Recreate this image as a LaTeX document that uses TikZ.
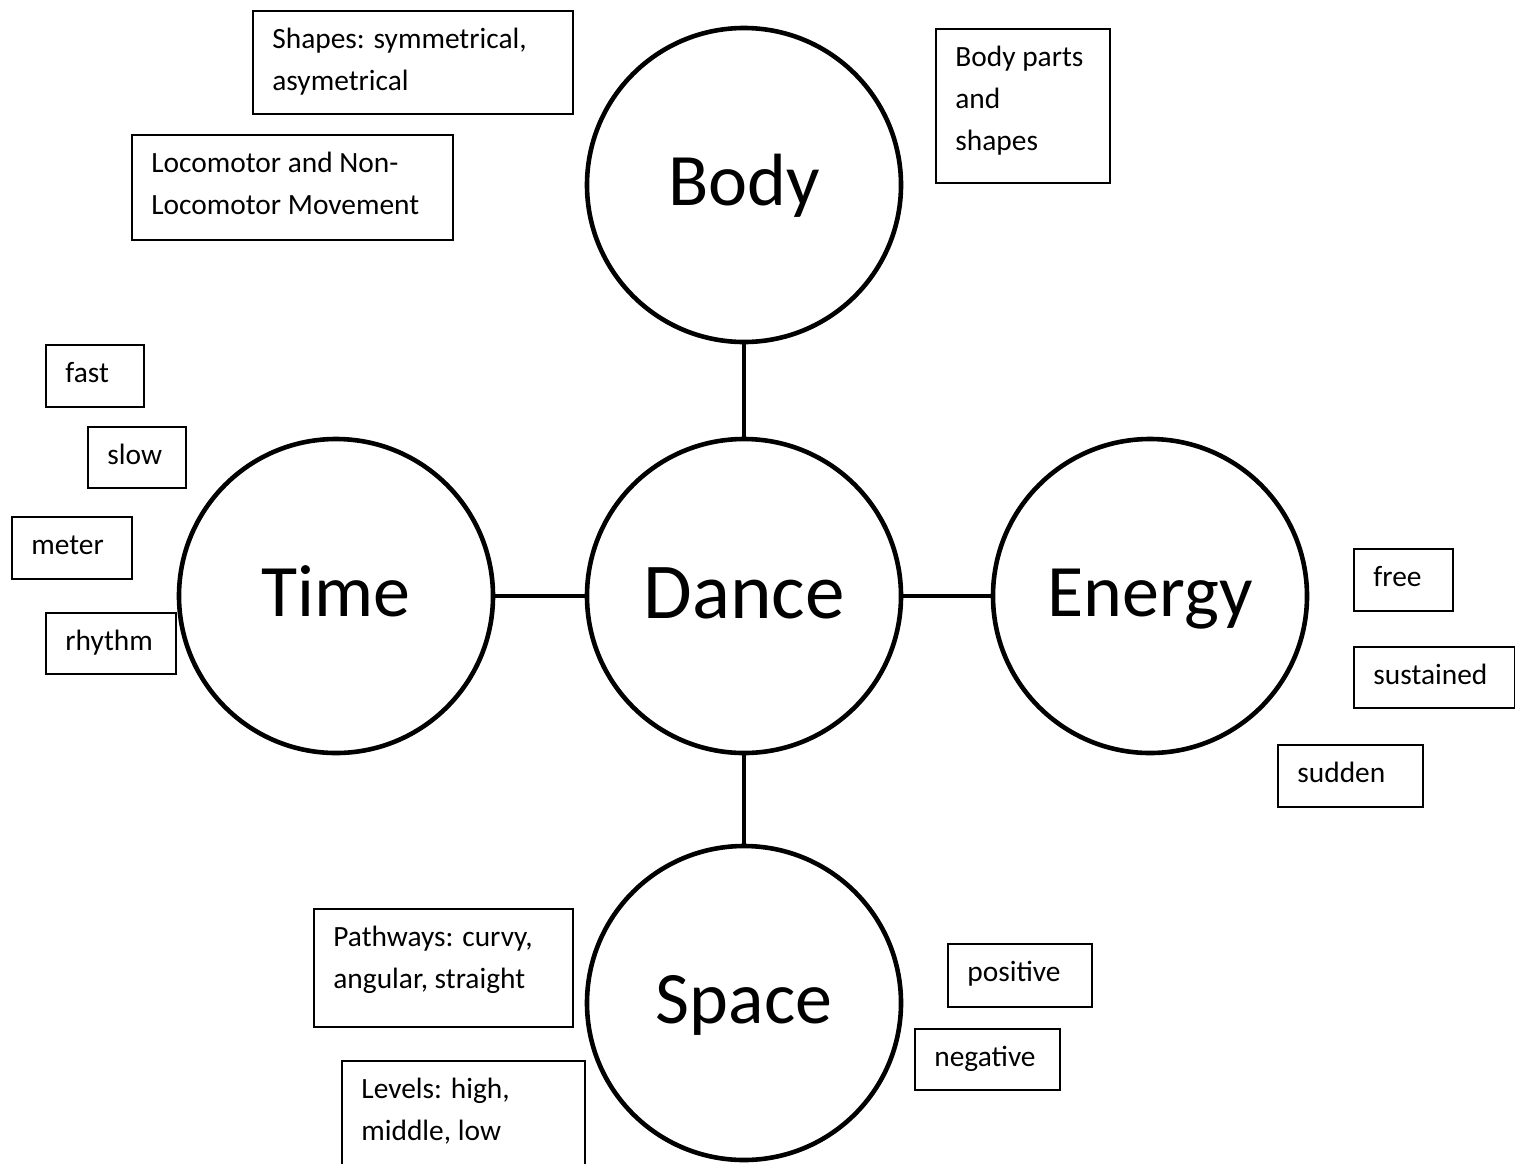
\documentclass[tikz,border=0pt]{standalone}
\usepackage{fontspec}
\setmainfont{Carlito}
\usetikzlibrary{calc}

\tikzset{
  hub/.style={circle, draw, line width=2.3pt, minimum size=157pt, inner sep=0pt,
    font=\fontsize{37pt}{40pt}\selectfont, text height=20.8pt, text depth=0pt},
  bighub/.style={hub, font=\fontsize{39.6pt}{42pt}\selectfont, text height=22.5pt},
  conn/.style={line width=1.7pt},
  tagbox/.style={draw, line width=1pt, inner sep=0pt, anchor=north west},
  tagtext/.style={inner sep=0pt, anchor=base west,
    font=\fontsize{14.7pt}{21pt}\selectfont}
}

% #1 name, #2 left, #3 top, #4 right, #5 bottom, #6 lines of text
\newcommand\tagitem[6]{%
  \node[tagbox, minimum width={(#4-#2)*0.5pt}, minimum height={(#5-#3)*0.5pt}]
    (#1) at (#2,#3) {};
  \node[tagtext] (#1-t) at ($(#1.north west)+(20,38)$)
    {\begin{tabular}[t]{@{}l@{}}#6\end{tabular}};
}

\begin{document}
\begin{tikzpicture}[x=0.5pt, y=-0.5pt]
\useasboundingbox (0,0) rectangle (1515,1163);
\clip (0,0) rectangle (1515,1163);

% main concepts
\node[hub]    (body)   at (744,185)  {Body};
\node[bighub] (dance)  at (744,596)  {Dance};
\node[hub]    (time)   at (336,596)  {Time};
\node[hub]    (energy) at (1150,596) {Energy};
\node[hub]    (space)  at (744,1003) {Space};

\draw[conn] (body) -- (dance);
\draw[conn] (time) -- (dance);
\draw[conn] (dance) -- (energy);
\draw[conn] (dance) -- (space);

% Body
\tagitem{shapes}{252}{10}{572}{113}{Shapes: symmetrical,\\asymetrical}
\tagitem{loco}{131}{134}{452}{239}{Locomotor and Non-\\Locomotor Movement}
\tagitem{parts}{935}{28}{1109}{182}{Body parts\\and\\shapes}

% Time
\tagitem{fast}{45}{344}{143}{406}{fast}
\tagitem{slow}{87}{426}{185}{487}{slow}
\tagitem{meter}{11}{516}{131}{578}{meter}
\tagitem{rhythm}{45}{612}{175}{673}{rhythm}

% Energy
\tagitem{free}{1353}{548}{1452}{610}{free}
\tagitem{sustained}{1353}{646}{1514}{707}{sustained}
\tagitem{sudden}{1277}{744}{1422}{806}{sudden}

% Space
\tagitem{pathways}{313}{908}{572}{1026}{Pathways: curvy,\\angular, straight}
\tagitem{levels}{341}{1060}{584}{1180}{Levels: high,\\middle, low}
\tagitem{positive}{947}{943}{1091}{1006}{positive}
\tagitem{negative}{914}{1028}{1059}{1089}{negative}
\end{tikzpicture}
\end{document}
